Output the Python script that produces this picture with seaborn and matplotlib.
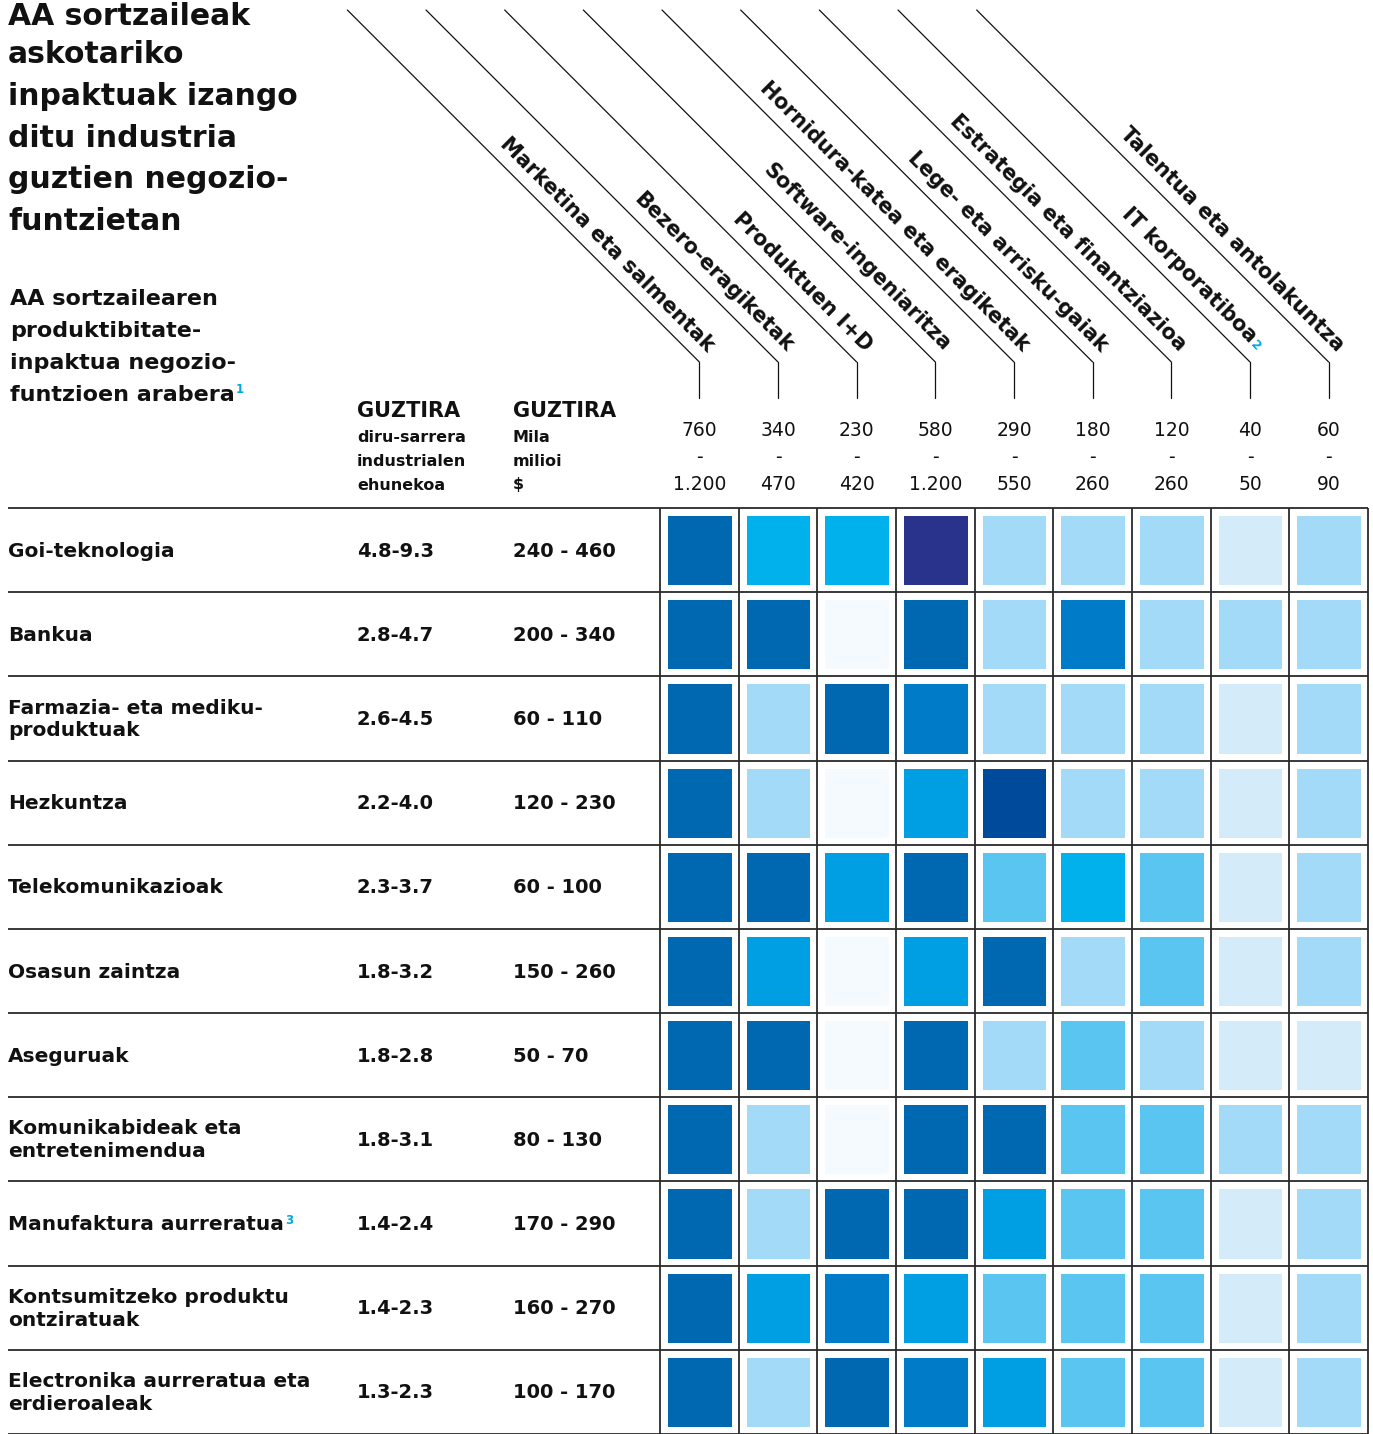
import numpy as np
import pandas as pd
import matplotlib
matplotlib.use("Agg")
import matplotlib.pyplot as plt
from matplotlib.colors import ListedColormap
import seaborn as sns

# ---------------------------------------------------------------- data
industries = [
    "Goi-teknologia", "Bankua", "Farmazia- eta mediku-\nproduktuak",
    "Hezkuntza", "Telekomunikazioak", "Osasun zaintza", "Aseguruak",
    "Komunikabideak eta\nentretenimendua", "Manufaktura aurreratua",
    "Kontsumitzeko produktu\nontziratuak",
    "Electronika aurreratua eta\nerdieroaleak",
]
industry_notes = ["", "", "", "", "", "", "", "", "3", "", ""]
revenue_share = ["4.8-9.3", "2.8-4.7", "2.6-4.5", "2.2-4.0", "2.3-3.7",
                 "1.8-3.2", "1.8-2.8", "1.8-3.1", "1.4-2.4", "1.4-2.3",
                 "1.3-2.3"]
value_low = [240, 200, 60, 120, 60, 150, 50, 80, 170, 160, 100]
value_high = [460, 340, 110, 230, 100, 260, 70, 130, 290, 270, 170]

functions = [
    "Marketina eta salmentak", "Bezero-eragiketak", "Produktuen I+D",
    "Software-ingeniaritza", "Hornidura-katea eta eragiketak",
    "Lege- eta arrisku-gaiak", "Estrategia eta finantziazioa",
    "IT korporatiboa", "Talentua eta antolakuntza",
]
function_notes = ["", "", "", "", "", "", "", "2", ""]
function_low = [760, 340, 230, 580, 290, 180, 120, 40, 60]
function_high = [1200, 470, 420, 1200, 550, 260, 260, 50, 90]

# impact level per industry (rows) and business function (columns), 0 = lowest
impact_level = [
    [7, 4, 4, 9, 2, 2, 2, 1, 2],
    [7, 7, 0, 7, 2, 6, 2, 2, 2],
    [7, 2, 7, 6, 2, 2, 2, 1, 2],
    [7, 2, 0, 5, 8, 2, 2, 1, 2],
    [7, 7, 5, 7, 3, 4, 3, 1, 2],
    [7, 5, 0, 5, 7, 2, 3, 1, 2],
    [7, 7, 0, 7, 2, 3, 2, 1, 1],
    [7, 2, 0, 7, 7, 3, 3, 2, 2],
    [7, 2, 7, 7, 5, 3, 3, 1, 2],
    [7, 5, 6, 5, 3, 3, 3, 1, 2],
    [7, 2, 7, 6, 5, 3, 3, 1, 2],
]
level_colors = ["#F5FAFE", "#D4EBFA", "#A2DAF7", "#5BC5F2", "#00B1EB",
                "#009FE3", "#007BC7", "#0068B0", "#004A9C", "#2A338B"]

title_lines = ["AA sortzaileak", "askotariko", "inpaktuak izango",
               "ditu industria", "guztien negozio-", "funtzietan"]
subtitle_lines = ["AA sortzailearen", "produktibitate-", "inpaktua negozio-",
                  "funtzioen arabera"]

# ---------------------------------------------------------------- style
sns.set_theme(style="white")
plt.rcParams["font.family"] = ["DejaVu Sans"]
INK = "#111111"
NOTE = "#00A9E0"
W, H = 1373, 1434


def fmt(n):
    return f"{n:,}".replace(",", ".")


fig = plt.figure(figsize=(W / 100, H / 100), dpi=100)
fig.patch.set_facecolor("white")

# heatmap of the impact levels
hx = fig.add_axes([660 / W, 0, 708 / W, 926 / H])
df = pd.DataFrame(impact_level, index=industries, columns=functions)
sns.heatmap(df, ax=hx, cmap=ListedColormap(level_colors), vmin=-0.5,
            vmax=len(level_colors) - 0.5, cbar=False, linewidths=9.5,
            linecolor="white", xticklabels=False, yticklabels=False,
            square=False)

# overlay in pixel coordinates for rules and text
ov = fig.add_axes([0, 0, 1, 1])
ov.set_xlim(0, W)
ov.set_ylim(H, 0)
ov.axis("off")
ov.set_zorder(3)
renderer = fig.canvas.get_renderer()


def to_px(x, y):
    return ov.transData.inverted().transform(hx.transData.transform((x, y)))


n_rows, n_cols = df.shape
col_x = [to_px(j + 0.5, 0)[0] for j in range(n_cols)]
col_edges = [to_px(j, 0)[0] for j in range(n_cols + 1)]
row_edges = [to_px(0, i)[1] for i in range(n_rows + 1)]
row_y = [to_px(0, i + 0.5)[1] for i in range(n_rows)]

# table rules
for y in row_edges:
    ov.plot([8, col_edges[-1]], [y, y], color="#2a2a2a", lw=1.3,
            solid_capstyle="butt")
for x in col_edges:
    ov.plot([x, x], [row_edges[0], row_edges[-1]], color="#2a2a2a", lw=1.3,
            solid_capstyle="butt")

# title and subtitle
title_base = [25, 63, 105, 147, 188, 230]
for k, line in enumerate(title_lines):
    ov.text(8, title_base[k], line, fontsize=21.5, fontweight="bold",
            color=INK, va="baseline", ha="left")
sub_texts = []
for k, line in enumerate(subtitle_lines):
    t = ov.text(10, 305 + k * 32, line, fontsize=16, fontweight="bold",
                color=INK, va="baseline", ha="left")
    sub_texts.append(t)


def add_note(text_obj, note, size=8, drop=2):
    bb = text_obj.get_window_extent(renderer)
    (x1, ytop) = ov.transData.inverted().transform((bb.x1, bb.y1))
    ov.text(x1 + 1, ytop + drop, note, fontsize=size, fontweight="bold",
            color=NOTE, ha="left", va="top")


add_note(sub_texts[-1], "1", 8.5, -2)

# column group headers
for x0, sub in [(357, ["diru-sarrera", "industrialen", "ehunekoa"]),
                (513, ["Mila", "milioi", "$"])]:
    ov.text(x0, 411, "GUZTIRA", fontsize=15, fontweight="bold", color=INK,
            va="center", ha="left")
    for k, s in enumerate(sub):
        ov.text(x0, 437 + k * 24, s, fontsize=11.5, fontweight="bold",
                color=INK, va="center", ha="left")

# function headers: spend ranges, leader lines and slanted names
d = np.array([1, 1]) / np.sqrt(2)
perp = np.array([1, -1]) / np.sqrt(2)
for j, cx in enumerate(col_x):
    ov.text(cx, 431, fmt(function_low[j]), fontsize=13.5, color=INK,
            ha="center", va="center")
    ov.text(cx, 457, "-", fontsize=13.5, color=INK, ha="center",
            va="center")
    ov.text(cx, 484, fmt(function_high[j]), fontsize=13.5, color=INK,
            ha="center", va="center")
    ov.plot([cx, cx], [362, 398], color=INK, lw=0.9)
    ov.plot([cx, cx - 352], [362, 10], color=INK, lw=0.9)
    end = np.array([cx, 362]) + 12 * perp - 1.5 * d
    if function_notes[j]:
        main_end = end - 12 * d
        ov.text(*(main_end + 2 * d), function_notes[j], fontsize=9,
                fontweight="bold", color=NOTE, rotation=-45,
                rotation_mode="anchor", ha="left", va="baseline")
    else:
        main_end = end
    ov.text(*main_end, functions[j], fontsize=15, fontweight="bold",
            color=INK, rotation=-45, rotation_mode="anchor", ha="right",
            va="baseline")

# row labels and totals
for i, y in enumerate(row_y):
    t = ov.text(8, y + 1, industries[i], fontsize=14.5, fontweight="bold",
                color=INK, ha="left", va="center", linespacing=1.25)
    if industry_notes[i]:
        add_note(t, industry_notes[i], 8.5, -1)
    ov.text(357, y + 1, revenue_share[i], fontsize=14, fontweight="bold",
            color=INK, ha="left", va="center")
    ov.text(513, y + 1, f"{value_low[i]} - {value_high[i]}", fontsize=14,
            fontweight="bold", color=INK, ha="left", va="center")

fig.savefig("out.png", dpi=100, facecolor="white")
